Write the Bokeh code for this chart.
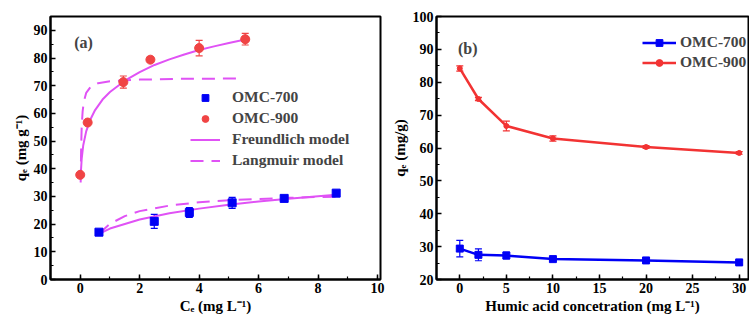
from bokeh.plotting import figure
from bokeh.models import (Range1d, Whisker, TeeHead, ColumnDataSource, Label,
                          Legend, LegendItem, SingleIntervalTicker)
from bokeh.layouts import row
from bokeh.embed import file_html
from bokeh.resources import INLINE

# ---------------- data: panel (a) ----------------
ce_700 = [0.63, 2.49, 3.67, 5.11, 6.86, 8.61]
qe_700 = [17.1, 21.0, 24.2, 27.7, 29.3, 31.2]
err_700 = [0.5, 2.5, 1.8, 2.0, 1.0, 1.0]

ce_900 = [0.0, 0.25, 1.45, 2.36, 4.0, 5.55]
qe_900 = [37.8, 56.7, 71.3, 79.4, 83.6, 86.8]
err_900 = [0.3, 0.5, 2.2, 1.0, 2.8, 2.1]

fr900_c = [0.02, 0.05, 0.1, 0.2, 0.35, 0.5, 0.75, 1.0, 1.5, 2.0, 2.5, 3.0, 3.5, 4.0, 4.5, 5.0, 5.55]
fr900_q = [38.5, 43.7, 48.4, 53.5, 58.0, 61.2, 65.0, 67.7, 71.8, 74.9, 77.5, 79.5, 81.3, 82.9, 84.2, 85.4, 86.7]
la900_c = [0.015, 0.03, 0.05, 0.08, 0.12, 0.2, 0.35, 0.6, 1.0, 2.0, 3.5, 5.3]
la900_q = [35.0, 47.3, 55.5, 60.6, 64.2, 67.4, 69.6, 70.9, 71.6, 72.2, 72.5, 72.6]

fr700_c = [0.63, 1.0, 2.0, 3.0, 4.0, 5.0, 6.0, 7.0, 8.0, 8.61]
fr700_q = [16.5, 18.4, 21.7, 23.9, 25.6, 27.0, 28.2, 29.2, 30.1, 30.65]
la700_c = [0.63, 1.0, 1.5, 2.0, 3.0, 4.0, 5.0, 6.0, 7.0, 8.0, 8.61]
la700_q = [16.5, 20.1, 22.9, 24.7, 26.7, 27.9, 28.6, 29.1, 29.5, 29.8, 29.9]

# ---------------- data: panel (b) ----------------
ha = [0, 2, 5, 10, 20, 30]
b_700 = [29.4, 27.5, 27.3, 26.2, 25.8, 25.2]
b_700_err = [2.5, 1.8, 1.0, 0.3, 0.3, 0.6]
b_900 = [84.2, 74.9, 66.7, 62.9, 60.3, 58.5]
b_900_err = [0.8, 0.5, 1.5, 0.8, 0.4, 0.4]

FONT = "Liberation Serif"
BLUE = "#0000F5"
RED = "#F04444"
RED_B = "#F23333"
MAG = "#E052F5"


def style(p, xint, yint):
    p.xgrid.visible = False
    p.ygrid.visible = False
    p.outline_line_color = "black"
    p.outline_line_width = 2
    p.xaxis.ticker = SingleIntervalTicker(interval=xint, num_minor_ticks=2)
    p.yaxis.ticker = SingleIntervalTicker(interval=yint, num_minor_ticks=2)
    for ax in (p.xaxis, p.yaxis):
        ax.axis_line_width = 2
        ax.axis_line_color = "black"
        ax.major_tick_in = 5
        ax.major_tick_out = 0
        ax.minor_tick_in = 3
        ax.minor_tick_out = 0
        ax.major_tick_line_width = 1.5
        ax.minor_tick_line_width = 1.2
        ax.major_label_text_font = FONT
        ax.major_label_text_font_style = "bold"
        ax.major_label_text_font_size = "14px"
        ax.major_label_text_color = "black"
        ax.axis_label_text_font = FONT
        ax.axis_label_text_font_style = "bold"
        ax.axis_label_text_font_size = "15px"
        ax.axis_label_text_color = "black"
        ax.major_label_standoff = 3
        ax.axis_label_standoff = 2


def errbars(p, xs, ys, es, color):
    src = ColumnDataSource(dict(x=xs, upper=[y + e for y, e in zip(ys, es)],
                                lower=[y - e for y, e in zip(ys, es)]))
    w = Whisker(source=src, base="x", upper="upper", lower="lower",
                line_color=color, line_width=1.2,
                upper_head=TeeHead(size=7, line_color=color, line_width=1.2),
                lower_head=TeeHead(size=7, line_color=color, line_width=1.2))
    p.add_layout(w)


# ---------------- panel (a) ----------------
pa = figure(width=388, height=316, output_backend="svg", toolbar_location=None,
            x_range=Range1d(-1, 10.1), y_range=Range1d(0, 95),
            min_border_left=50, min_border_right=8, min_border_top=16, min_border_bottom=30)
style(pa, 2, 10)
pa.xaxis.axis_label = "Cₑ (mg L⁻¹)"
pa.yaxis.axis_label = "qₑ (mg g⁻¹)"

r_fr900 = pa.line(fr900_c, fr900_q, line_color=MAG, line_width=2)
pa.line(la900_c, la900_q, line_color=MAG, line_width=2, line_dash="13 8")
r_fr700 = pa.line(fr700_c, fr700_q, line_color=MAG, line_width=2)
r_la700 = pa.line(la700_c, la700_q, line_color=MAG, line_width=2, line_dash="13 8")

errbars(pa, ce_900, qe_900, err_900, RED)
errbars(pa, ce_700, qe_700, err_700, BLUE)
r_sq = pa.scatter(ce_700, qe_700, marker="square", size=8, fill_color=BLUE, line_color=BLUE)
r_ci = pa.scatter(ce_900, qe_900, marker="circle", size=9, fill_color=RED, line_color=RED)

leg_a = Legend(items=[LegendItem(label="OMC-700", renderers=[r_sq]),
                      LegendItem(label="OMC-900", renderers=[r_ci]),
                      LegendItem(label="Freundlich model", renderers=[r_fr700]),
                      LegendItem(label="Langmuir model", renderers=[r_la700])],
               location=(140, 110), border_line_color=None, background_fill_alpha=0,
               label_text_font=FONT, label_text_font_style="bold", label_text_font_size="15.5px",
               glyph_width=30, glyph_height=17, label_height=17, spacing=3,
               label_standoff=12, padding=0, margin=0)
pa.add_layout(leg_a)
pa.add_layout(Label(x=-0.2, y=85.5, text="(a)", text_font=FONT, text_font_style="bold",
                    text_font_size="16px", text_baseline="middle"))

# ---------------- panel (b) ----------------
pb = figure(width=361, height=316, output_backend="svg", toolbar_location=None,
            x_range=Range1d(-2.5, 31), y_range=Range1d(20, 100),
            min_border_left=46, min_border_right=1, min_border_top=16, min_border_bottom=30)
style(pb, 5, 10)
pb.xaxis.axis_label = "Humic acid concetration (mg L⁻¹)"
pb.yaxis.axis_label = "qₑ (mg/g)"

errbars(pb, ha, b_700, b_700_err, BLUE)
errbars(pb, ha, b_900, b_900_err, RED_B)
l7 = pb.line(ha, b_700, line_color=BLUE, line_width=2.5)
s7 = pb.scatter(ha, b_700, marker="square", size=7, fill_color=BLUE, line_color=BLUE)
l9 = pb.line(ha, b_900, line_color=RED_B, line_width=2.5)
s9 = pb.scatter(ha, b_900, marker="circle", size=5, fill_color=RED_B, line_color=RED_B)

leg_b = Legend(items=[LegendItem(label="OMC-700", renderers=[l7, s7]),
                      LegendItem(label="OMC-900", renderers=[l9, s9])],
               location=(206, 208), border_line_color=None, background_fill_alpha=0,
               label_text_font=FONT, label_text_font_style="bold", label_text_font_size="15.5px",
               glyph_width=34, glyph_height=17, label_height=17, spacing=2,
               label_standoff=4, padding=0, margin=0)
pb.add_layout(leg_b)
pb.add_layout(Label(x=-0.2, y=90.4, text="(b)", text_font=FONT, text_font_style="bold",
                    text_font_size="16px", text_baseline="middle"))

layout = row(pa, pb)
open("out.html", "w").write(file_html(layout, INLINE))
